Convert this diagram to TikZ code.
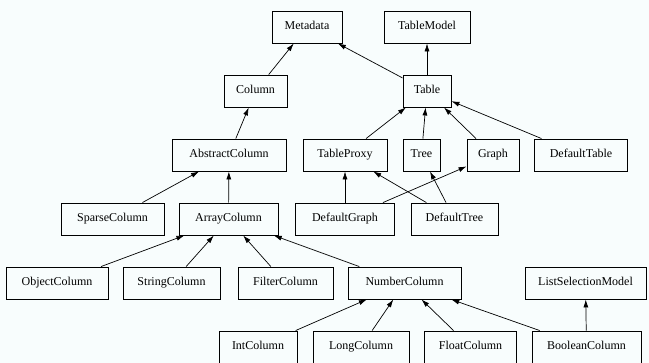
\documentclass[tikz,border=0pt]{standalone}
\usepackage{fontspec}
\setmainfont{Liberation Serif}
\usepackage{tikz}
\usetikzlibrary{graphs,arrows.meta}
\definecolor{bgcol}{RGB}{248,253,253}

\begin{document}
\begin{tikzpicture}[x=1pt,y=-1pt,
    every node/.style={draw,rectangle,line width=0.9pt,minimum height=32pt,inner xsep=0pt,
      text height=8.5pt,text depth=2.5pt,font=\fontsize{12}{14}\selectfont},
    >={Latex[length=8pt,width=5pt]}]
    \fill[bgcol] (0,0) rectangle (649,363);
    \useasboundingbox (0,0) rectangle (649,363);
    % interfaces and base classes
    \node[minimum width=70pt] (Metadata) at (307,27) {Metadata};
    \node[minimum width=86pt] (TableModel) at (427,27) {TableModel};
    \node[minimum width=63pt] (Column) at (255.5,91) {Column};
    \node[minimum width=48pt] (Table) at (427,91) {Table};
    \node[minimum width=114pt] (AbstractColumn) at (229,155) {AbstractColumn};
    \node[minimum width=84pt] (TableProxy) at (345,155) {TableProxy};
    \node[minimum width=37pt] (Tree) at (421.5,155) {Tree};
    \node[minimum width=52pt] (Graph) at (493,155) {Graph};
    \node[minimum width=93pt] (DefaultTable) at (581,155) {DefaultTable};
    \node[minimum width=103pt] (SparseColumn) at (112.5,219) {SparseColumn};
    \node[minimum width=99pt] (ArrayColumn) at (228.5,219) {ArrayColumn};
    \node[minimum width=99pt] (DefaultGraph) at (345,219) {DefaultGraph};
    \node[minimum width=87pt] (DefaultTree) at (454.5,219) {DefaultTree};
    % column classes
    \node[minimum width=102pt] (ObjectColumn) at (57,283) {ObjectColumn};
    \node[minimum width=97pt] (StringColumn) at (171.5,283) {StringColumn};
    \node[minimum width=95pt] (FilterColumn) at (285.5,283) {FilterColumn};
    \node[minimum width=113pt] (NumberColumn) at (404.5,283) {NumberColumn};
    \node[minimum width=121pt] (ListSelectionModel) at (585.5,283) {ListSelectionModel};
    \node[minimum width=78pt] (IntColumn) at (258,347) {IntColumn};
    \node[minimum width=96pt] (LongColumn) at (361,347) {LongColumn};
    \node[minimum width=92pt] (FloatColumn) at (470.5,347) {FloatColumn};
    \node[minimum width=109pt] (BooleanColumn) at (586.5,347) {BooleanColumn};
    \graph [use existing nodes, edges={line width=0.7pt}] {
      Column -> Metadata;
      Table -> {Metadata, TableModel};
      AbstractColumn -> Column;
      {TableProxy, Tree, Graph, DefaultTable} -> Table;
      {SparseColumn, ArrayColumn} -> AbstractColumn;
      DefaultGraph -> {TableProxy, Graph};
      DefaultTree -> {TableProxy, Tree};
      {ObjectColumn, StringColumn, FilterColumn, NumberColumn} -> ArrayColumn;
      {IntColumn, LongColumn, FloatColumn, BooleanColumn} -> NumberColumn;
      BooleanColumn -> ListSelectionModel;
    };
  \end{tikzpicture}
\end{document}
